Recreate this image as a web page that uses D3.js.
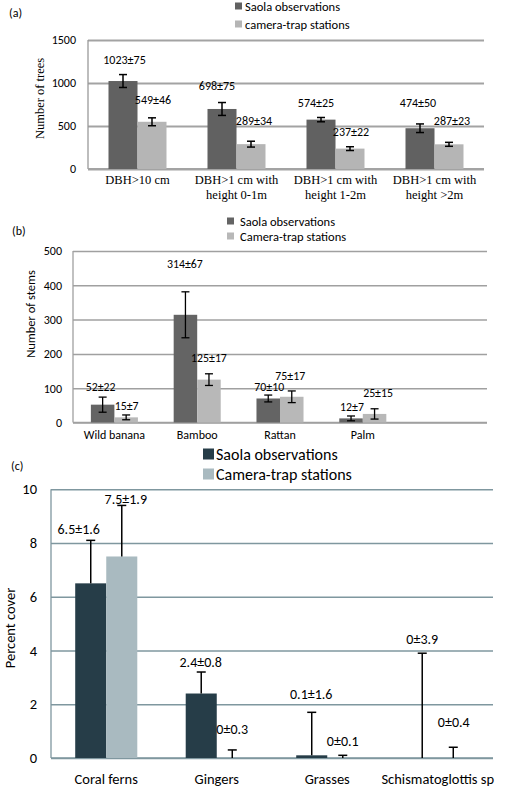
<!DOCTYPE html>
<html>
<head>
<meta charset="utf-8">
<script src="https://cdn.jsdelivr.net/npm/d3@7"></script>
<style>
  html, body { margin: 0; padding: 0; background: #fff; }
  svg { display: block; }
</style>
</head>
<body>
<svg id="chart" width="510" height="787"></svg>
<script>
// ---------- DATA ----------
const aCategories = [["DBH>10 cm"], ["DBH>1 cm with", "height 0-1m"], ["DBH>1 cm with", "height 1-2m"], ["DBH>1 cm with", "height >2m"]];
const aSaola = [1023, 698, 574, 474];
const aSaolaErr = [75, 75, 25, 50];
const aCamera = [549, 289, 237, 287];
const aCameraErr = [46, 34, 22, 23];
const aTicks = [0, 500, 1000, 1500];

const bCategories = ["Wild banana", "Bamboo", "Rattan", "Palm", ""];
const bSaola = [52, 314, 70, 12];
const bSaolaErr = [22, 67, 10, 7];
const bCamera = [15, 125, 75, 25];
const bCameraErr = [7, 17, 17, 15];
const bTicks = [0, 100, 200, 300, 400, 500];

const cCategories = ["Coral ferns", "Gingers", "Grasses", "Schismatoglottis sp"];
const cSaola = [6.5, 2.4, 0.1, 0];
const cSaolaErr = [1.6, 0.8, 1.6, 3.9];
const cCamera = [7.5, 0, 0, 0];
const cCameraErr = [1.9, 0.3, 0.1, 0.4];
const cTicks = [0, 2, 4, 6, 8, 10];

// ---------- LAYOUT (label nudges in px: [dx from bar centre, dy from error top]) ----------
const aNudge = {
  saola: [[1.5, -14.6], [-5, -16.5], [-5, -14.5], [-2, -21]],
  camera: [[1, -18], [3, -20], [1, -14.7], [3, -21]]
};
const bNudge = {
  saola: [[-2, -10], [-0.5, -28], [1, -8.3], [1, -9.3]],
  camera: [[0.5, -9.3], [0, -16], [-1.5, -15], [3.5, -16]]
};
const cNudge = {
  saola: [[-12, -10.4], [-0.5, -9.3], [-0.5, -18], [0, -14]],
  camera: [[4, -6.4], [0, -20], [0, -13.6], [0.5, -24.6]]
};

const SANS = "Carlito, Lato, 'Liberation Sans', sans-serif";
const SERIF = "'Liberation Serif', 'DejaVu Serif', serif";

const svg = d3.select("#chart");

function panel(cfg) {
  const g = svg.append("g");
  const keys = cfg.categories.map((c, i) => i);
  const x = d3.scaleBand().domain(keys).range([cfg.x0, cfg.x1]).padding(0);
  const sub = d3.scaleBand().domain(["saola", "camera"]).range([0, x.bandwidth()]).paddingInner(0).paddingOuter(cfg.subPad);
  const y = d3.scaleLinear().domain([0, d3.max(cfg.ticks)]).range([cfg.y0, cfg.y1]);

  // gridlines + tick labels
  const yAxis = d3.axisLeft(y).tickValues(cfg.ticks).tickSize(-(cfg.x1 - cfg.x0)).tickPadding(cfg.tickPad).tickFormat(d3.format("d"));
  const ya = g.append("g").attr("transform", `translate(${cfg.x0},0)`).call(yAxis);
  ya.select(".domain").remove();
  ya.selectAll(".tick line").attr("stroke", cfg.gridColor).attr("stroke-width", cfg.gridWidth);
  ya.selectAll(".tick text").attr("fill", "#000").attr("font-family", cfg.tickFont).attr("font-size", cfg.tickSize);
  // left axis line
  g.append("line").attr("x1", cfg.x0).attr("x2", cfg.x0).attr("y1", y(d3.max(cfg.ticks))).attr("y2", y(0))
    .attr("stroke", cfg.axisColor).attr("stroke-width", 1.3);
  // bottom line
  g.append("line").attr("x1", cfg.x0).attr("x2", cfg.x1).attr("y1", y(0)).attr("y2", y(0))
    .attr("stroke", cfg.gridColor).attr("stroke-width", cfg.gridWidth);

  // bars
  const series = [
    { key: "saola", vals: cfg.saola, errs: cfg.saolaErr, color: cfg.dark, nudge: cfg.nudge.saola },
    { key: "camera", vals: cfg.camera, errs: cfg.cameraErr, color: cfg.light, nudge: cfg.nudge.camera }
  ];
  series.forEach(s => {
    const data = s.vals.map((v, i) => ({ i, v, e: s.errs[i], n: s.nudge[i] }));
    const cx = d => x(d.i) + sub(s.key) + sub.bandwidth() / 2;
    g.append("g").selectAll("rect").data(data).join("rect")
      .attr("x", d => x(d.i) + sub(s.key))
      .attr("width", sub.bandwidth())
      .attr("y", d => y(d.v))
      .attr("height", d => y(0) - y(d.v))
      .attr("fill", s.color);
    // error bars
    const eg = g.append("g").attr("stroke", "#000").attr("stroke-width", cfg.errWidth);
    data.forEach(d => {
      const top = y(d.v + d.e);
      const bot = cfg.twoSided ? y(Math.max(0, d.v - d.e)) : y(d.v);
      eg.append("line").attr("x1", cx(d)).attr("x2", cx(d)).attr("y1", top).attr("y2", bot);
      eg.append("line").attr("x1", cx(d) - cfg.cap).attr("x2", cx(d) + cfg.cap).attr("y1", top).attr("y2", top);
      if (cfg.twoSided) eg.append("line").attr("x1", cx(d) - cfg.cap).attr("x2", cx(d) + cfg.cap).attr("y1", bot).attr("y2", bot);
    });
    // value labels
    g.append("g").selectAll("text").data(data).join("text")
      .attr("x", d => cx(d) + d.n[0])
      .attr("y", d => y(d.v + d.e) + d.n[1])
      .attr("text-anchor", "middle")
      .attr("dominant-baseline", "central")
      .attr("font-family", SANS)
      .attr("font-size", cfg.labelSize)
      .attr("fill", "#000")
      .text(d => `${d.v}±${d.e}`);
  });

  // category labels
  const xl = g.append("g");
  cfg.categories.forEach((c, i) => {
    const lines = Array.isArray(c) ? c : [c];
    const t = xl.append("text").attr("x", x(i) + x.bandwidth() / 2).attr("y", cfg.catY)
      .attr("text-anchor", "middle").attr("dominant-baseline", "central")
      .attr("font-family", cfg.catFont).attr("font-size", cfg.catSize).attr("fill", "#000");
    lines.forEach((l, k) => t.append("tspan").attr("x", x(i) + x.bandwidth() / 2).attr("dy", k === 0 ? 0 : cfg.catLine).text(l));
  });

  // y title
  g.append("text").attr("transform", `translate(${cfg.titleX},${cfg.titleY}) rotate(-90)`)
    .attr("text-anchor", "middle").attr("dominant-baseline", "central")
    .attr("font-family", cfg.titleFont).attr("font-size", cfg.titleSize).attr("fill", "#000")
    .text(cfg.yTitle);

  // panel letter
  g.append("text").attr("x", cfg.letterX).attr("y", cfg.letterY).attr("dominant-baseline", "central")
    .attr("font-family", SANS).attr("font-size", cfg.letterSize).attr("fill", "#000").text(cfg.letter);

  // legend
  const lg = g.append("g");
  cfg.legend.forEach((name, k) => {
    const yy = cfg.legY[k];
    lg.append("rect").attr("x", cfg.legX).attr("y", yy - cfg.legBox / 2).attr("width", cfg.legBox).attr("height", cfg.legBox)
      .attr("fill", k === 0 ? cfg.dark : cfg.light);
    lg.append("text").attr("x", cfg.legTextX).attr("y", yy).attr("dominant-baseline", "central")
      .attr("font-family", SANS).attr("font-size", cfg.legSize).attr("fill", "#000").text(name);
  });
}

panel({
  categories: aCategories, saola: aSaola, saolaErr: aSaolaErr, camera: aCamera, cameraErr: aCameraErr, ticks: aTicks,
  nudge: aNudge,
  x0: 88, x1: 484, y0: 169, y1: 40, subPad: 0.707,
  dark: "#616161", light: "#b5b5b5",
  gridColor: "#a3a3a3", gridWidth: 2, axisColor: "#9a9a9a",
  tickPad: 12, tickFont: SANS, tickSize: 12,
  errWidth: 1.5, cap: 4, twoSided: true, labelSize: 12,
  catY: 180, catLine: 15, catFont: SERIF, catSize: 12.5,
  titleX: 40, titleY: 98.5, titleFont: SERIF, titleSize: 12.5, yTitle: "Number of trees",
  letter: "(a)", letterX: 9, letterY: 13, letterSize: 12,
  legend: ["Saola observations", "camera-trap stations"], legY: [6, 24], legX: 235, legTextX: 245, legBox: 7, legSize: 12.5
});

panel({
  categories: bCategories, saola: bSaola, saolaErr: bSaolaErr, camera: bCamera, cameraErr: bCameraErr, ticks: bTicks,
  nudge: bNudge,
  x0: 73, x1: 487, y0: 422.5, y1: 251, subPad: 0.76,
  dark: "#646464", light: "#b8b8b8",
  gridColor: "#a0a0a0", gridWidth: 1.5, axisColor: "#a0a0a0",
  tickPad: 11, tickFont: SANS, tickSize: 12,
  errWidth: 1.3, cap: 4, twoSided: true, labelSize: 11.8,
  catY: 435, catLine: 14, catFont: SANS, catSize: 12,
  titleX: 30, titleY: 314, titleFont: SANS, titleSize: 12.5, yTitle: "Number of stems",
  letter: "(b)", letterX: 12, letterY: 231, letterSize: 12,
  legend: ["Saola observations", "Camera-trap stations"], legY: [221, 236], legX: 227, legTextX: 240, legBox: 7, legSize: 12.5
});

panel({
  categories: cCategories, saola: cSaola, saolaErr: cSaolaErr, camera: cCamera, cameraErr: cCameraErr, ticks: cTicks,
  nudge: cNudge,
  x0: 51, x1: 493, y0: 758, y1: 489.3, subPad: 0.78,
  dark: "#263d48", light: "#a9bac0",
  gridColor: "#7f979f", gridWidth: 1.6, axisColor: "#7f979f",
  tickPad: 14, tickFont: SANS, tickSize: 14.5,
  errWidth: 1.5, cap: 4.5, twoSided: false, labelSize: 14,
  catY: 779, catLine: 16, catFont: SANS, catSize: 14.5,
  titleX: 10, titleY: 628, titleFont: SANS, titleSize: 14.5, yTitle: "Percent cover",
  letter: "(c)", letterX: 11, letterY: 466, letterSize: 12,
  legend: ["Saola observations", "Camera-trap stations"], legY: [454, 474], legX: 203, legTextX: 216, legBox: 11, legSize: 16
});
</script>
</body>
</html>
